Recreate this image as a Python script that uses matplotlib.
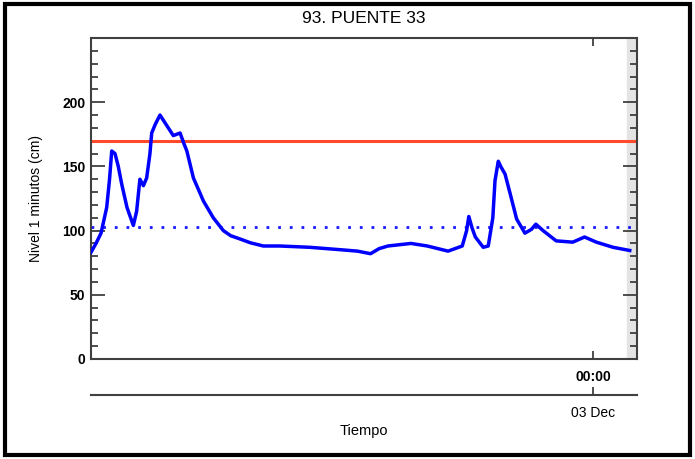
import numpy as np
import matplotlib
matplotlib.use("Agg")
import matplotlib.pyplot as plt
from matplotlib.patches import Rectangle

plt.rcParams['font.family'] = ['Liberation Sans', 'DejaVu Sans']

# hours after 02 Dec 01:00
hours = [0.0, 0.23, 0.46, 0.72, 0.85, 0.95, 1.10, 1.25, 1.41, 1.65, 1.94, 2.09, 2.24, 2.40,
         2.55, 2.70, 2.78, 2.95, 3.16, 3.35, 3.54, 3.77, 4.08, 4.25, 4.39, 4.69, 5.15,
         5.60, 6.06, 6.40, 6.82, 7.30, 7.89, 8.65, 10.0, 11.5, 12.2, 12.8, 13.2, 13.6,
         14.65, 15.4, 16.35, 17.0, 17.2, 17.3, 17.45, 17.6, 17.96, 18.19, 18.4, 18.5,
         18.65, 18.76, 18.96, 19.19, 19.49, 19.87, 20.17, 20.37, 20.7, 21.3, 22.06,
         22.6, 23.14, 23.9, 24.67]
nivel = [83, 90, 98, 118, 140, 162, 160, 150, 136, 118, 104, 115, 140, 135,
         141, 160, 176, 183, 190, 185, 180, 174, 176, 168, 162, 141, 123,
         110, 100, 96, 93.5, 90.5, 88, 88, 87, 85, 84, 82, 86, 88,
         90, 88, 84, 88, 100, 111, 102, 95, 87, 88, 110, 139,
         154, 150, 144, 129, 109, 98, 101, 105, 100, 92, 91,
         95, 91, 87, 84.5]

umbral_rojo = 170
umbral_azul = 103
t_medianoche = 23.0
t_fin = 25.0
t_gris = 24.55

fig = plt.figure(figsize=(6.95, 4.59), dpi=100)
ax = fig.add_axes([0.1309, 0.2179, 0.7856, 0.6993])

ax.axvspan(t_gris, t_fin, color='#e4e4e4', zorder=0)
ax.axhline(umbral_rojo, color='#ff4b2b', lw=2.2, zorder=2)
ax.axhline(umbral_azul, color='#1a1aff', lw=2.0, ls=(0, (1, 3.2)), zorder=2)
ax.plot(hours, nivel, color='#0000ff', lw=2.5, zorder=3, solid_joinstyle='round')

ax.set_xlim(0, t_fin)
ax.set_ylim(0, 250)
ax.set_yticks([0, 50, 100, 150, 200])
ax.set_yticks(np.arange(0, 251, 10), minor=True)
ax.set_xticks([t_medianoche])
ax.set_xticklabels(['00:00'])
ax.tick_params(axis='both', which='both', direction='in', top=True, right=True,
               color='#303030', width=1.2)
ax.tick_params(axis='y', which='major', length=10, labelsize=10, pad=4)
ax.tick_params(axis='y', which='minor', length=5)
ax.tick_params(axis='x', which='major', length=6, labelsize=10, pad=8)
for lab in ax.get_xticklabels() + ax.get_yticklabels():
    lab.set_fontweight('bold')
for s in ax.spines.values():
    s.set_color('#404040')
    s.set_linewidth(1.5)

ax.set_title('93. PUENTE 33', fontsize=12.5, pad=11)
ax.set_ylabel('Nivel 1 minutos (cm)', fontsize=10, labelpad=14)

# second date axis
ax2 = fig.add_axes([0.1309, 0.1394, 0.7856, 0.0001])
ax2.set_xlim(0, t_fin)
ax2.set_yticks([])
ax2.set_xticks([t_medianoche])
ax2.set_xticklabels(['03 Dec'])
for k in ['top', 'left', 'right']:
    ax2.spines[k].set_visible(False)
ax2.spines['bottom'].set_color('#404040')
ax2.spines['bottom'].set_linewidth(1.5)
ax2.tick_params(axis='x', direction='in', length=6, color='#303030', width=1.2,
                labelsize=10, pad=8)
ax2.set_xlabel('Tiempo', fontsize=10.5, labelpad=3)

fig.patches.append(Rectangle((5 / 695, 4 / 459), 685 / 695, 451 / 459, transform=fig.transFigure,
                             fill=False, edgecolor='black', linewidth=3))

fig.savefig('out.png', dpi=100)
